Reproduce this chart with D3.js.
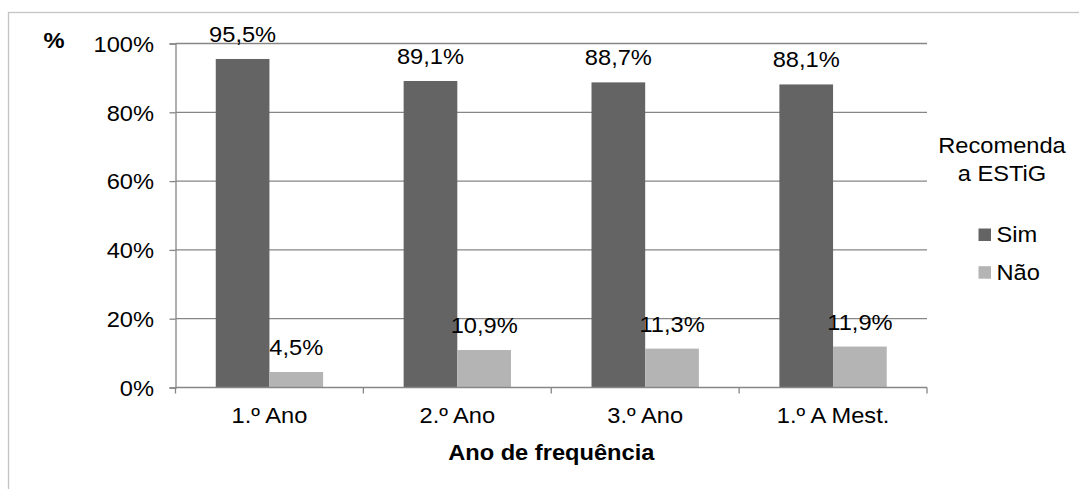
<!DOCTYPE html>
<html>
<head>
<meta charset="utf-8">
<script src="https://cdn.jsdelivr.net/npm/d3@7"></script>
<style>
  html, body { margin: 0; padding: 0; background: #fff; }
  svg { display: block; font-family: "Liberation Sans", Arial, sans-serif; }
</style>
</head>
<body>
<svg id="chart" width="1079" height="489"></svg>
<script>
// Year of attendance categories
const categories = ["1.º Ano", "2.º Ano", "3.º Ano", "1.º A Mest."];
// Share of students who would recommend ESTiG
const simValues = [95.5, 89.1, 88.7, 88.1];
const naoValues = [4.5, 10.9, 11.3, 11.9];
const seriesNames = ["Sim", "Não"];
const yTicks = [0, 20, 40, 60, 80, 100];

const colors = { "Sim": "#646464", "Não": "#b4b4b4" };
const series = [
  { name: seriesNames[0], values: simValues },
  { name: seriesNames[1], values: naoValues }
];

const svg = d3.select("#chart");
const W = 1079, H = 489;
const plot = { left: 175.5, right: 927, top: 43.5, bottom: 387.5 };
const FS = 21.5, SX = 1.1;   // text size and slight horizontal widening
const gridColor = "#868686";
const fmt = v => d3.format(".1f")(v).replace(".", ",") + "%";

// Text placed by transform so the glyphs can be widened around their anchor
function label(parent, x, y, txt, anchor = "middle", bold = false) {
  return parent.append("text")
    .attr("transform", `translate(${x},${y}) scale(${SX},1)`)
    .attr("text-anchor", anchor)
    .attr("font-size", FS)
    .attr("font-weight", bold ? "bold" : "normal")
    .attr("fill", "#000")
    .text(txt);
}

// Outer chart border
svg.append("rect")
  .attr("x", 8.5).attr("y", 12.5)
  .attr("width", W + 10).attr("height", H + 10)
  .attr("fill", "none").attr("stroke", "#c4c4c4").attr("stroke-width", 1.3);

const x0 = d3.scaleBand().domain(categories).range([plot.left, plot.right]).padding(0);
// Two bars per category with a 150% gap: each bar is band/3.5 wide
const barW = x0.bandwidth() / 3.5;
const x1 = d3.scaleBand().domain(seriesNames).range([0.75 * barW, 2.75 * barW]).padding(0);
const y = d3.scaleLinear().domain([0, 100]).range([plot.bottom, plot.top]);

// Horizontal gridlines
svg.append("g").selectAll("line").data(yTicks.filter(t => t > 0)).join("line")
  .attr("x1", plot.left).attr("x2", plot.right)
  .attr("y1", d => y(d)).attr("y2", d => y(d))
  .attr("stroke", gridColor).attr("stroke-width", 1.3);

// Y axis line and ticks
const yAxis = svg.append("g").attr("transform", `translate(${plot.left},0)`)
  .call(d3.axisLeft(y).tickValues(yTicks).tickFormat("").tickSize(6));
yAxis.select(".domain").attr("stroke", gridColor).attr("stroke-width", 1.3);
yAxis.selectAll(".tick line").attr("stroke", gridColor).attr("stroke-width", 1.3);
const yLabels = svg.append("g");
yTicks.forEach(t => label(yLabels, 154, y(t) + 8.2, t + "%", "end"));

// Bars
const groups = svg.append("g").selectAll("g").data(series).join("g")
  .attr("fill", d => colors[d.name]);
groups.selectAll("rect").data(d => d.values.map((v, i) => ({ name: d.name, v, cat: categories[i] })))
  .join("rect")
  .attr("x", d => x0(d.cat) + x1(d.name))
  .attr("width", x1.bandwidth())
  .attr("y", d => y(d.v))
  .attr("height", d => y(0) - y(d.v));

// Value labels
const valueLabels = svg.append("g");
series.forEach(s => s.values.forEach((v, i) => {
  label(valueLabels, x0(categories[i]) + x1(s.name) + x1.bandwidth() / 2, y(v) - 17, fmt(v));
}));

// X axis line, category separators and labels
svg.append("line")
  .attr("x1", plot.left).attr("x2", plot.right)
  .attr("y1", plot.bottom).attr("y2", plot.bottom)
  .attr("stroke", gridColor).attr("stroke-width", 1.3);
const bounds = categories.map(c => x0(c)).concat([plot.right]);
svg.append("g").selectAll("line").data(bounds).join("line")
  .attr("x1", d => d).attr("x2", d => d)
  .attr("y1", plot.bottom).attr("y2", plot.bottom + 6)
  .attr("stroke", gridColor).attr("stroke-width", 1.3);
const xLabels = svg.append("g");
categories.forEach(c => label(xLabels, x0(c) + x0.bandwidth() / 2, 423, c));

// Axis titles
label(svg, (plot.left + plot.right) / 2, 459.5, "Ano de frequência", "middle", true);
label(svg, 54, 48, "%", "middle", true);

// Legend
const legend = svg.append("g");
label(legend, 1002, 153, "Recomenda");
label(legend, 1002, 181, "a ESTiG");
seriesNames.forEach((n, i) => {
  const yy = 228.5 + i * 37.7;
  legend.append("rect").attr("x", 978.5).attr("y", yy)
    .attr("width", 12.5).attr("height", 12.5).attr("fill", colors[n]);
  label(legend, 996.5, yy + 13.5, n, "start");
});
</script>
</body>
</html>
